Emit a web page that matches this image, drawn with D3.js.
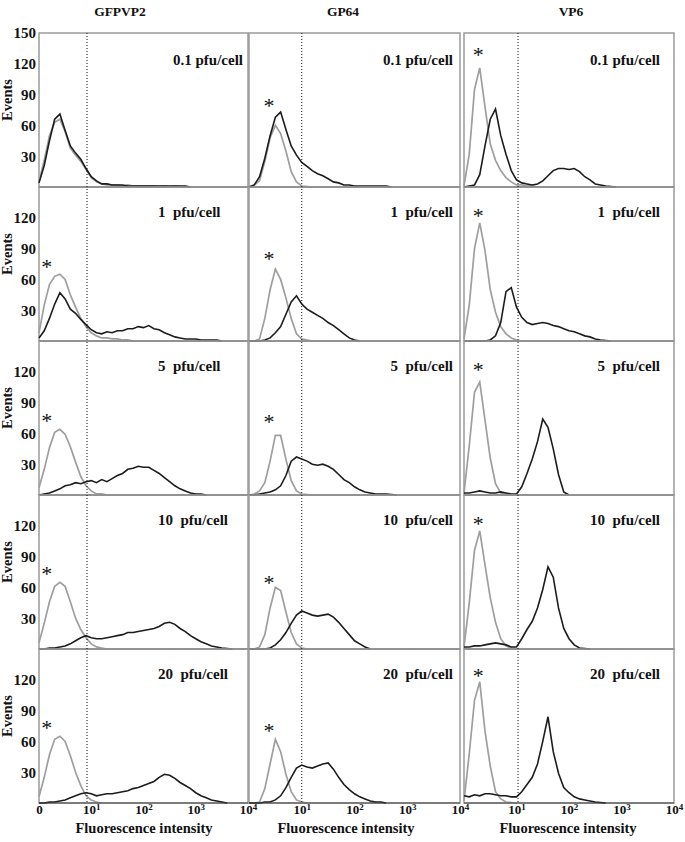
<!DOCTYPE html>
<html>
<head>
<meta charset="utf-8">
<script src="https://cdn.jsdelivr.net/npm/d3@7"></script>
<style>
  body { margin: 0; background: #fff; }
  text { font-family: "Liberation Serif", "Times New Roman", serif; fill: #111; }
</style>
</head>
<body>
<div id="main"></div>
<script>
// Flow cytometry histograms, 3 proteins x 5 doses
// Values are events per bin, bins are log10 of fluorescence intensity

var proteins = ['GFPVP2', 'GP64', 'VP6'];
var doses = ['0.1 pfu/cell', '1  pfu/cell', '5  pfu/cell', '10  pfu/cell', '20  pfu/cell'];
var logBins = [0, 0.1, 0.2, 0.3, 0.4, 0.5, 0.6, 0.7, 0.8, 0.9,
               1.0, 1.1, 1.2, 1.3, 1.4, 1.5, 1.6, 1.7, 1.8, 1.9,
               2.0, 2.1, 2.2, 2.3, 2.4, 2.5, 2.6, 2.7, 2.8, 2.9,
               3.0, 3.1, 3.2, 3.3, 3.4, 3.5, 3.6, 3.7, 3.8, 3.9, 4.0];
var yTicks = [30, 60, 90, 120];
var yTicksTop = [30, 60, 90, 120, 150];
var xTicksFirst = [1, 10, 100, 1000, 10000];
var xTicks = [10, 100, 1000, 10000];
var gates = [8.3, 10, 10.7]; // dotted threshold, fluorescence units

// gray = control (marked *), black = infected
var grayGFPVP2 = [
  [5, 26, 50, 63, 66, 54, 38, 31, 25, 17, 9, 5, 3, 2, 2, 2, 1, 2, 1, 1, 1, 1, 1, 0.5, 1, 0.5, 1, 0.5, 0.5, 0],
  [8, 35, 55, 63, 65, 60, 45, 33, 22, 14, 8, 5, 3, 3, 2, 2, 1, 1, 0],
  [7, 25, 46, 61, 64, 59, 47, 32, 18, 9, 4, 1, 1, 0],
  [6, 25, 46, 61, 65, 61, 46, 30, 19, 11, 5, 2, 1, 0],
  [6, 25, 47, 62, 65, 60, 46, 30, 17, 7, 3, 1, 0]
];
var blackGFPVP2 = [
  [4, 21, 45, 66, 71, 55, 40, 33, 27, 18, 10, 6, 3, 3, 2, 2, 2, 1, 1, 1, 1, 1, 1, 1, 1, 1, 1, 1, 1, 0],
  [3, 10, 22, 36, 47, 41, 31, 27, 21, 16, 11, 8, 7, 9, 8, 10, 10, 12, 12, 14, 13, 15, 12, 11, 8, 6, 4, 3, 2, 2, 2, 1, 1, 1, 1, 0],
  [0, 1, 2, 4, 6, 9, 10, 12, 11, 13, 14, 12, 15, 13, 16, 19, 21, 25, 26, 28, 27, 27, 24, 21, 17, 13, 9, 6, 4, 2, 1, 1, 0],
  [0, 0, 1, 1, 2, 3, 5, 8, 11, 13, 11, 10, 10, 11, 12, 13, 14, 16, 16, 17, 18, 19, 20, 22, 25, 26, 24, 20, 17, 13, 10, 7, 5, 3, 2, 1, 0.5, 0],
  [0, 0, 1, 1, 2, 3, 5, 7, 9, 10, 9, 7, 8, 9, 9, 10, 11, 12, 14, 15, 17, 19, 21, 25, 28, 27, 24, 20, 17, 14, 10, 7, 5, 3, 2, 1, 0]
];
var grayGP64 = [
  [0, 2, 6, 25, 48, 60, 52, 35, 15, 5, 1, 0.5, 0],
  [0, 0, 2, 22, 50, 70, 60, 42, 22, 7, 2, 1, 0],
  [0, 1, 4, 12, 33, 58, 58, 35, 14, 4, 1, 0.5, 0],
  [0, 0, 2, 14, 40, 60, 57, 36, 16, 5, 1, 0],
  [0, 0, 1, 14, 38, 62, 50, 28, 11, 3, 1, 0]
];
var blackGP64 = [
  [0, 2, 10, 28, 50, 68, 73, 56, 40, 31, 24, 20, 16, 13, 11, 8, 5, 4, 2, 2, 1, 1, 1, 1, 1, 1, 1, 0],
  [0, 0, 0, 1, 3, 8, 14, 26, 38, 44, 36, 31, 28, 25, 22, 18, 15, 11, 7, 3, 1, 0],
  [0, 0, 1, 2, 3, 5, 9, 19, 33, 37, 35, 33, 30, 29, 30, 28, 25, 20, 15, 12, 8, 5, 3, 2, 1, 1, 1, 0.5, 0],
  [0, 0, 0, 0, 1, 4, 9, 16, 25, 33, 37, 35, 33, 32, 33, 34, 31, 26, 20, 14, 8, 5, 2, 0],
  [0, 0, 0, 1, 1, 3, 7, 15, 25, 34, 37, 35, 34, 36, 38, 39, 33, 25, 18, 13, 9, 6, 4, 2, 1, 1, 0]
];
var grayVP6 = [
  [1, 32, 95, 116, 78, 42, 26, 16, 9, 5, 2, 2, 1, 1, 0],
  [2, 35, 90, 115, 88, 50, 28, 14, 7, 3, 1, 0],
  [2, 48, 100, 110, 73, 36, 11, 2, 0.5, 0],
  [2, 45, 96, 115, 82, 50, 26, 10, 3, 1, 0],
  [2, 48, 100, 118, 70, 36, 11, 4, 1, 0.5, 0]
];
var blackVP6 = [
  [0, 1, 2, 12, 40, 66, 76, 50, 32, 16, 7, 4, 3, 2, 3, 6, 11, 16, 18, 18, 17, 18, 15, 10, 7, 3, 2, 1, 0.5, 0],
  [0, 0, 0, 0, 0, 1, 5, 18, 48, 52, 33, 23, 18, 16, 17, 18, 17, 15, 14, 12, 10, 9, 7, 5, 4, 2, 1, 0.5, 0],
  [2, 2, 3, 4, 3, 2, 2, 3, 2, 1, 1, 8, 21, 35, 52, 74, 66, 45, 20, 3, 0],
  [2, 2, 3, 3, 4, 5, 6, 5, 4, 2, 2, 10, 19, 27, 40, 58, 80, 70, 40, 20, 10, 4, 1, 0.5, 0],
  [7, 6, 8, 7, 9, 9, 8, 7, 7, 6, 6, 11, 18, 25, 38, 60, 84, 50, 29, 15, 10, 6, 4, 3, 2, 1, 0.5, 0]
];

// asterisk marks over the control peak: [log10 intensity, events]
var starGFPVP2 = [null, [0.15, 75], [0.15, 75], [0.15, 76], [0.15, 76]];
var starGP64 = [[0.38, 82], [0.38, 83], [0.38, 74], [0.38, 68], [0.38, 73]];
var starVP6 = [[0.27, 132], [0.27, 125], [0.27, 125], [0.27, 125], [0.27, 127]];

// layout
var colX = [39, 249, 464],
    colW = [209, 211, 210],
    top0 = 33,
    rowH = 154,
    titleX = [120, 343, 571],
    xLabelX = [144, 346, 568],
    labelPad = [5, 7, 14];

var grays = [grayGFPVP2, grayGP64, grayVP6],
    blacks = [blackGFPVP2, blackGP64, blackVP6],
    stars = [starGFPVP2, starGP64, starVP6];

var svg = d3.select('#main')
  .append('svg')
  .attr('width', 685)
  .attr('height', 842);

proteins.forEach(function(p, c) {
  var x = d3.scaleLog().domain([1, 1e4]).range([colX[c], colX[c] + colW[c]]);

  svg.append('text') // column title
    .attr('x', titleX[c]).attr('y', 16)
    .attr('text-anchor', 'middle')
    .attr('font-size', 13.5).attr('font-weight', 'bold')
    .text(p);

  doses.forEach(function(dose, r) {
    var yTop = top0 + r * rowH, yBot = yTop + rowH;
    var y = d3.scaleLinear().domain([0, 150]).range([yBot, yTop]);
    var g = svg.append('g');

    g.append('rect') // panel frame
      .attr('x', colX[c]).attr('y', yTop)
      .attr('width', colW[c]).attr('height', rowH)
      .attr('fill', 'none').attr('stroke', '#9a9a9a').attr('stroke-width', 1.5);

    var line = d3.line()
      .x(function(v, i) { return x(Math.pow(10, logBins[i])); })
      .y(function(v) { return y(v); });

    g.append('path')
      .attr('d', line(grays[c][r]))
      .attr('fill', 'none').attr('stroke', '#9e9e9e').attr('stroke-width', 1.7);
    g.append('path')
      .attr('d', line(blacks[c][r]))
      .attr('fill', 'none').attr('stroke', '#1c1c1c').attr('stroke-width', 1.6);

    g.append('line') // baseline
      .attr('x1', colX[c]).attr('x2', colX[c] + colW[c])
      .attr('y1', yBot).attr('y2', yBot)
      .attr('stroke', '#444').attr('stroke-width', 1);

    var lab = g.append('text')
      .attr('y', yTop + (r == 0 ? 32 : 30))
      .attr('font-size', 15).attr('font-weight', 'bold')
      .style('white-space', 'pre')
      .text(dose);
    if (c == 0 && r > 0) lab.attr('x', 158).attr('text-anchor', 'start');
    else lab.attr('x', colX[c] + colW[c] - labelPad[c]).attr('text-anchor', 'end');

    var s = stars[c][r];
    if (s) {
      g.append('text')
        .attr('x', x(Math.pow(10, s[0]))).attr('y', y(s[1]))
        .attr('dy', '0.47em')
        .attr('text-anchor', 'middle')
        .attr('font-size', 22)
        .text('*');
    }

    if (c == 0) {
      var ya = g.append('g')
        .attr('transform', 'translate(' + (colX[0] - 1) + ',0)')
        .call(d3.axisLeft(y).tickValues(r == 0 ? yTicksTop : yTicks).tickSize(0).tickPadding(2));
      ya.select('.domain').remove();
      ya.attr('font-family', null).attr('font-size', 15).attr('font-weight', 'bold');
      ya.selectAll('.tick text').attr('fill', '#111');

      g.append('text')
        .attr('transform', 'translate(12,' + (yTop + 67) + ') rotate(-90)')
        .attr('text-anchor', 'middle')
        .attr('font-size', 14.5).attr('font-weight', 'bold')
        .text('Events');
    }

    if (r == doses.length - 1) {
      var xa = g.append('g')
        .attr('transform', 'translate(0,' + yBot + ')')
        .call(d3.axisBottom(x).tickValues(c == 0 ? xTicksFirst : xTicks)
          .tickSize(0).tickPadding(2).tickFormat(''));
      xa.select('.domain').remove();
      xa.attr('font-family', null).attr('font-size', 13).attr('font-weight', 'bold');
      xa.selectAll('.tick text').attr('fill', '#111').each(function(d) {
        var t = d3.select(this);
        if (d == 1) { t.text('0'); return; }
        t.append('tspan').text('10');
        t.append('tspan').attr('dy', '-0.45em').attr('font-size', 9)
          .text(Math.round(Math.log10(d)));
      });

      svg.append('text')
        .attr('x', xLabelX[c]).attr('y', 833)
        .attr('text-anchor', 'middle')
        .attr('font-size', 14.5).attr('font-weight', 'bold')
        .text('Fluorescence intensity');
    }
  });

  svg.append('line') // gate
    .attr('x1', x(gates[c])).attr('x2', x(gates[c]))
    .attr('y1', top0).attr('y2', top0 + doses.length * rowH)
    .attr('stroke', '#111').attr('stroke-width', 1)
    .attr('stroke-dasharray', '1,2');
});
</script>
</body>
</html>
